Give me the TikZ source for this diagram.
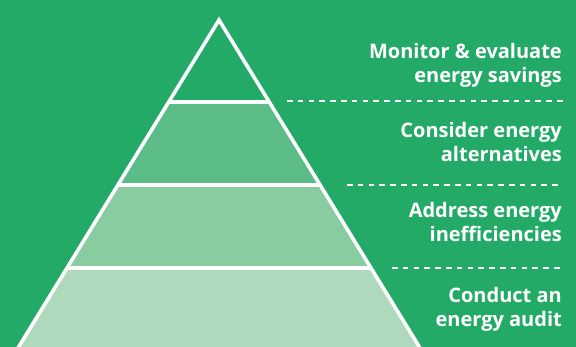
\documentclass[tikz,border=0pt]{standalone}
\usepackage{fontspec}
\setmainfont{Open Sans}
\begin{document}
\begin{tikzpicture}[x=1pt,y=-1pt,
  every node/.style={inner sep=0pt},
  label/.style={anchor=base east, align=right, text=white,
    font=\fontsize{20}{24}\selectfont\bfseries},
  edge/.style={draw=white, line width=3.6pt, line join=miter},
  divider/.style={draw=white, line width=2pt, dash pattern=on 5.5pt off 5.3pt}]
  \definecolor{bggreen}{HTML}{23AA67}
  \definecolor{tiertwo}{HTML}{5CBC87}
  \definecolor{tierthree}{HTML}{88CCA0}
  \definecolor{tierfour}{HTML}{AFD9BC}
  \useasboundingbox (0,0) rectangle (576,347);
  \clip (0,0) rectangle (576,347);
  \fill[bggreen] (0,0) rectangle (576,347);

  % pyramid corners
  \coordinate (apex) at (219,20);
  \coordinate (l1) at (168.7,102); \coordinate (r1) at (269.3,102);
  \coordinate (l2) at (117.9,185); \coordinate (r2) at (320.1,185);
  \coordinate (l3) at (67.0,268);  \coordinate (r3) at (371.0,268);
  \coordinate (l4) at (10.6,360);  \coordinate (r4) at (427.4,360);

  % tiers
  \fill[bggreen]   (apex) -- (l1) -- (r1) -- cycle;
  \fill[tiertwo]   (l1) -- (l2) -- (r2) -- (r1) -- cycle;
  \fill[tierthree] (l2) -- (l3) -- (r3) -- (r2) -- cycle;
  \fill[tierfour]  (l3) -- (l4) -- (r4) -- (r3) -- cycle;

  % outline and tier separators
  \draw[edge] (l4) -- (apex) -- (r4);
  \draw[edge] (l1) -- (r1);
  \draw[edge] (l2) -- (r2);
  \draw[edge] (l3) -- (r3);

  % dashed rules between labels
  \coordinate (d1a) at (287,101.5); \coordinate (d1b) at (563,101.5);
  \coordinate (d2a) at (347,185);   \coordinate (d2b) at (563,185);
  \coordinate (d3a) at (392,268);   \coordinate (d3b) at (563,268);
  \draw[divider] (d1a) -- (d1b);
  \draw[divider] (d2a) -- (d2b);
  \draw[divider] (d3a) -- (d3b);

  % labels (anchored on the baseline of the second line)
  \node[label] (t1) at (562,83)  {Monitor \& evaluate\\energy savings};
  \node[label] (t2) at (562,162) {Consider energy\\alternatives};
  \node[label] (t3) at (562,242) {Address energy\\inefficiencies};
  \node[label] (t4) at (562,327) {Conduct an\\energy audit};
\end{tikzpicture}
\end{document}
